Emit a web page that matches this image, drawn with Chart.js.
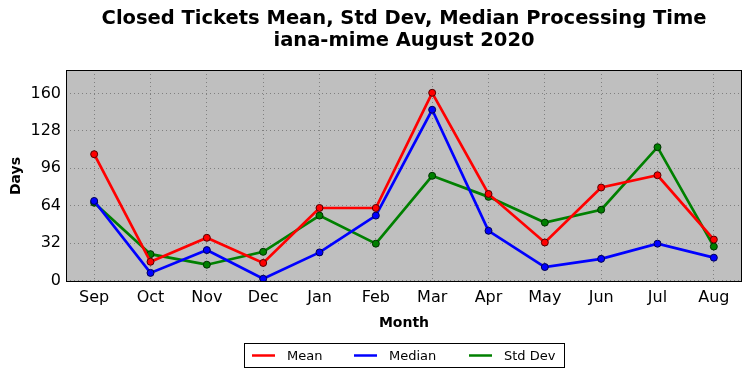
<!DOCTYPE html>
<html>
<head>
<meta charset="utf-8">
<script src="https://cdn.jsdelivr.net/npm/chart.js@4/dist/chart.umd.min.js"></script>
<style>
  html, body { margin: 0; padding: 0; background: #fff; }
  #wrap { width: 752px; height: 378px; }
</style>
</head>
<body>
<div id="wrap"><canvas id="grafica" width="752" height="378"></canvas></div>
<script>
"use strict"

const meses = ["Sep", "Oct", "Nov", "Dec", "Jan", "Feb", "Mar", "Apr", "May", "Jun", "Jul", "Aug"];
const media = [108, 16, 36.5, 15, 62, 62, 160.5, 74, 32.5, 79.5, 90, 35];
const mediana = [68, 6.5, 26, 1.5, 24, 55.5, 146, 42.5, 11.5, 18.5, 31.5, 19.5];
const desviacion = [66.5, 22.5, 13.5, 24.5, 55.5, 31.5, 89.5, 71.5, 49.5, 60.5, 114, 29];
const ticksY = [0, 32, 64, 96, 128, 160];
const titulo = ["Closed Tickets Mean, Std Dev, Median Processing Time", "iana-mime August 2020"];

const fuente = "'DejaVu Sans', sans-serif";

// fondo gris y borde negro del area de la grafica
const fondoPlot = {
    id: "fondoPlot",
    beforeDraw(chart) {
        const { ctx, chartArea: a } = chart;
        ctx.save();
        ctx.fillStyle = "#bfbfbf";
        ctx.fillRect(a.left, a.top, a.right - a.left, a.bottom - a.top);
        ctx.restore();
    },
    afterDatasetsDraw(chart) {
        const { ctx, chartArea: a } = chart;
        ctx.save();
        ctx.strokeStyle = "#000";
        ctx.lineWidth = 1;
        ctx.strokeRect(a.left + 0.5, a.top + 0.5, a.right - a.left - 1, a.bottom - a.top - 1);
        ctx.restore();
    }
};

// titulo centrado sobre el area de la grafica (como matplotlib)
const tituloPlot = {
    id: "tituloPlot",
    afterDraw(chart) {
        const { ctx, chartArea: a } = chart;
        const cx = (a.left + a.right) / 2;
        ctx.save();
        ctx.fillStyle = "#000";
        ctx.font = "bold 19.5px " + fuente;
        ctx.textAlign = "center";
        ctx.textBaseline = "middle";
        titulo.forEach((linea, i) => ctx.fillText(linea, cx, 19 + i * 22));
        ctx.restore();
    }
};

// leyenda con caja, debajo del eje x
const leyendaCaja = {
    id: "leyendaCaja",
    afterDraw(chart) {
        const ctx = chart.ctx;
        const x0 = 244.5, y0 = 343.5, w = 320, h = 24;
        ctx.save();
        ctx.fillStyle = "#fff";
        ctx.fillRect(x0, y0, w, h);
        ctx.strokeStyle = "#000";
        ctx.lineWidth = 1;
        ctx.strokeRect(x0, y0, w, h);
        ctx.font = "13px " + fuente;
        ctx.textBaseline = "middle";
        const items = [
            { x: 252, texto: "Mean", color: "#ff0000" },
            { x: 354, texto: "Median", color: "#0000ff" },
            { x: 469, texto: "Std Dev", color: "#008000" }
        ];
        items.forEach(it => {
            ctx.strokeStyle = it.color;
            ctx.lineWidth = 2.5;
            ctx.beginPath();
            ctx.moveTo(it.x, y0 + h / 2);
            ctx.lineTo(it.x + 23, y0 + h / 2);
            ctx.stroke();
            ctx.fillStyle = "#000";
            ctx.fillText(it.texto, it.x + 35, y0 + h / 2 + 1);
        });
        ctx.restore();
    }
};

function serie(label, datos, color, borde) {
    return {
        label: label,
        data: datos,
        borderColor: color,
        backgroundColor: color,
        borderWidth: 2.7,
        pointRadius: 3.5,
        pointBorderColor: borde,
        pointBorderWidth: 1,
        pointBackgroundColor: color,
        tension: 0
    };
}

let ctx = document.getElementById("grafica").getContext("2d");

new Chart(ctx, {
    type: "line",
    data: {
        labels: meses,
        datasets: [
            serie("Mean", media, "#ff0000", "#550000"),
            serie("Median", mediana, "#0000ff", "#000055"),
            serie("Std Dev", desviacion, "#008000", "#003000")
        ]
    },
    options: {
        responsive: false,
        animation: false,
        layout: { padding: { left: 0, right: 10, top: 70, bottom: 46 } },
        plugins: {
            legend: { display: false },
            tooltip: { enabled: false },
            title: { display: false }
        },
        scales: {
            x: {
                offset: true,
                grid: {
                    offset: false,
                    color: "#808080",
                    lineWidth: 1,
                    drawTicks: false
                },
                border: { display: false, dash: [1, 3] },
                ticks: { color: "#000", font: { family: fuente, size: 16 }, padding: 6, maxRotation: 0 },
                title: { display: true, text: "Month", color: "#000", font: { family: fuente, size: 14, weight: "bold" }, padding: { top: 2, bottom: 0 } },
                afterFit(eje) { eje.height = 50; }
            },
            y: {
                min: -1.3,
                max: 180,
                afterBuildTicks(eje) { eje.ticks = ticksY.map(v => ({ value: v })); },
                grid: { color: "#808080", lineWidth: 1, drawTicks: false },
                border: { display: false, dash: [1, 3] },
                ticks: { color: "#000", font: { family: fuente, size: 16 }, padding: 5 },
                title: { display: true, text: "Days", color: "#000", font: { family: fuente, size: 14, weight: "bold" }, padding: { top: 8, bottom: 0 } },
                afterFit(eje) { eje.width = 66; }
            }
        }
    },
    plugins: [fondoPlot, tituloPlot, leyendaCaja]
});
</script>
</body>
</html>
